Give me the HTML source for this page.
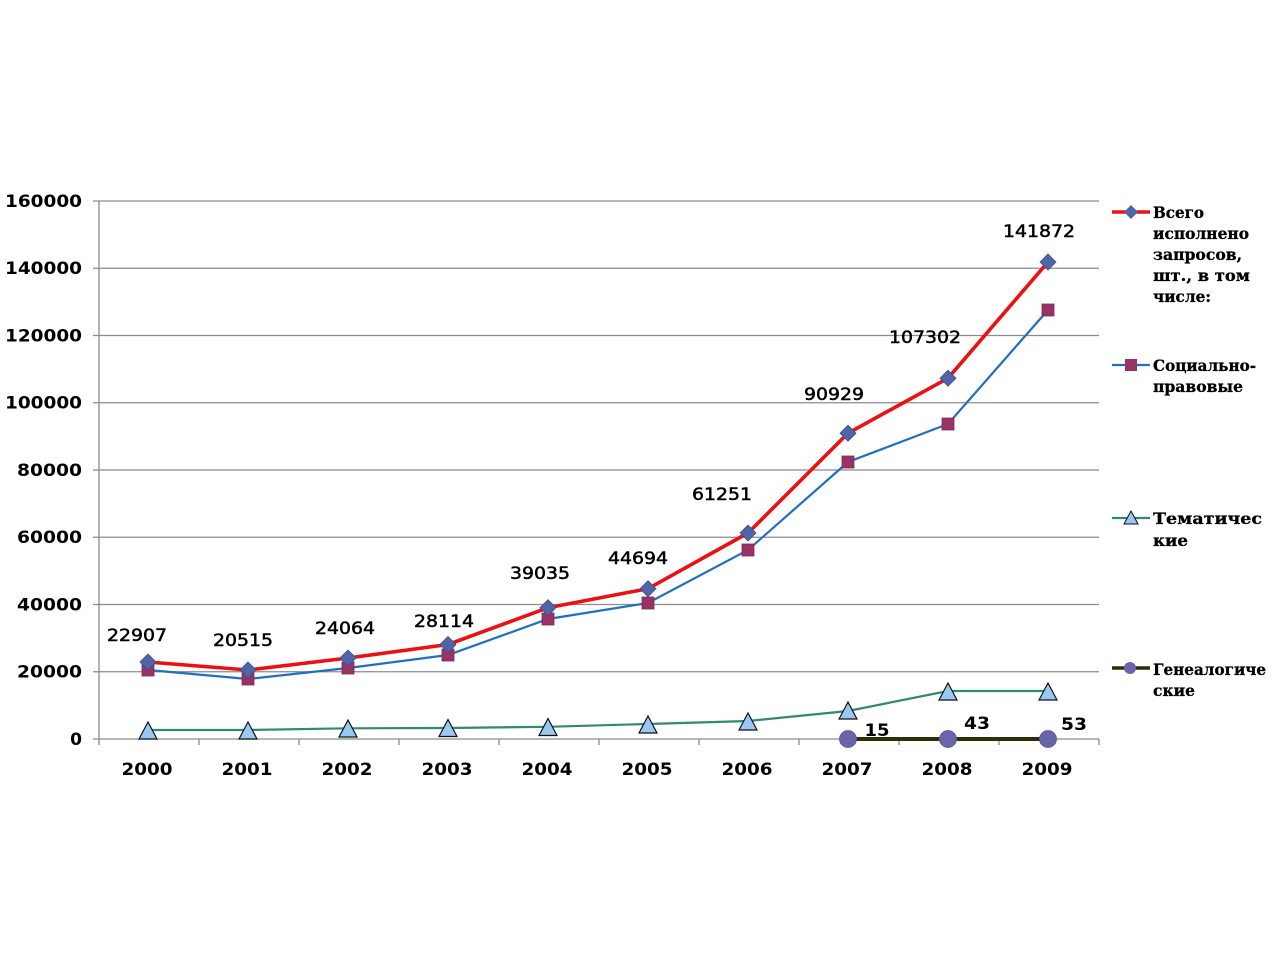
<!DOCTYPE html>
<html>
<head>
<meta charset="utf-8">
<style>
html,body{margin:0;padding:0;background:#fff;}
svg{display:block;}
.ax{font-family:"DejaVu Sans","Liberation Sans",sans-serif;font-weight:bold;font-size:17px;fill:#000;}
.dl{font-family:"DejaVu Sans","Liberation Sans",sans-serif;font-size:17px;fill:#000;stroke:#000;stroke-width:0.5px;}
.lg{font-family:"DejaVu Serif","Liberation Serif",serif;font-weight:bold;font-size:16px;fill:#000;stroke:#000;stroke-width:0.3px;}
</style>
</head>
<body>
<svg width="1280" height="960" viewBox="0 0 1280 960" xmlns="http://www.w3.org/2000/svg">
<rect width="1280" height="960" fill="#fff"/>
<!-- gridlines -->
<g stroke="#8c8c8c" stroke-width="1.3">
<line x1="93" y1="201" x2="1099" y2="201"/>
<line x1="93" y1="268.25" x2="1099" y2="268.25"/>
<line x1="93" y1="335.5" x2="1099" y2="335.5"/>
<line x1="93" y1="402.75" x2="1099" y2="402.75"/>
<line x1="93" y1="470" x2="1099" y2="470"/>
<line x1="93" y1="537.25" x2="1099" y2="537.25"/>
<line x1="93" y1="604.5" x2="1099" y2="604.5"/>
<line x1="93" y1="671.75" x2="1099" y2="671.75"/>
<line x1="93" y1="739" x2="1099" y2="739"/>
<line x1="99" y1="201" x2="99" y2="745"/>
<line x1="199" y1="739" x2="199" y2="745"/>
<line x1="299" y1="739" x2="299" y2="745"/>
<line x1="399" y1="739" x2="399" y2="745"/>
<line x1="499" y1="739" x2="499" y2="745"/>
<line x1="599" y1="739" x2="599" y2="745"/>
<line x1="699" y1="739" x2="699" y2="745"/>
<line x1="799" y1="739" x2="799" y2="745"/>
<line x1="899" y1="739" x2="899" y2="745"/>
<line x1="999" y1="739" x2="999" y2="745"/>
<line x1="1099" y1="739" x2="1099" y2="745"/>
</g>
<!-- y labels -->
<g class="ax" text-anchor="end">
<text x="82" y="207" textLength="77" lengthAdjust="spacingAndGlyphs">160000</text>
<text x="82" y="274" textLength="77" lengthAdjust="spacingAndGlyphs">140000</text>
<text x="82" y="341.5" textLength="77" lengthAdjust="spacingAndGlyphs">120000</text>
<text x="82" y="408.5" textLength="77" lengthAdjust="spacingAndGlyphs">100000</text>
<text x="82" y="476" textLength="65" lengthAdjust="spacingAndGlyphs">80000</text>
<text x="82" y="543" textLength="65" lengthAdjust="spacingAndGlyphs">60000</text>
<text x="82" y="610.5" textLength="65" lengthAdjust="spacingAndGlyphs">40000</text>
<text x="82" y="677.5" textLength="65" lengthAdjust="spacingAndGlyphs">20000</text>
<text x="82" y="745">0</text>
</g>
<!-- x labels -->
<g class="ax" text-anchor="middle">
<text x="147" y="775" textLength="51" lengthAdjust="spacingAndGlyphs">2000</text>
<text x="247" y="775" textLength="51" lengthAdjust="spacingAndGlyphs">2001</text>
<text x="347" y="775" textLength="51" lengthAdjust="spacingAndGlyphs">2002</text>
<text x="447" y="775" textLength="51" lengthAdjust="spacingAndGlyphs">2003</text>
<text x="547" y="775" textLength="51" lengthAdjust="spacingAndGlyphs">2004</text>
<text x="647" y="775" textLength="51" lengthAdjust="spacingAndGlyphs">2005</text>
<text x="747" y="775" textLength="51" lengthAdjust="spacingAndGlyphs">2006</text>
<text x="847" y="775" textLength="51" lengthAdjust="spacingAndGlyphs">2007</text>
<text x="947" y="775" textLength="51" lengthAdjust="spacingAndGlyphs">2008</text>
<text x="1047" y="775" textLength="51" lengthAdjust="spacingAndGlyphs">2009</text>
</g>
<!-- thematic line -->
<polyline fill="none" stroke="#2e8b6f" stroke-width="2.2" points="148,730 248,730 348,728.3 448,728 548,726.8 648,724 748,721 848,711 948,691 1048,691"/>
<!-- social line -->
<polyline fill="none" stroke="#1f6fc4" stroke-width="2.2" points="148,670 248,679 348,668 448,655 548,619 648,603 748,550 848,462 948,424 1048,310"/>
<!-- total line -->
<polyline fill="none" stroke="#ee1010" stroke-width="3.6" points="148,662 248,670 348,658 448,644.5 548,607.7 648,588.7 748,533 848,433.2 948,378.2 1048,262"/>
<!-- genealogical line -->
<line x1="848" y1="739" x2="1048" y2="739" stroke="#2e2e05" stroke-width="4"/>
<!-- square markers -->
<g fill="#993366" stroke="#7a2a55" stroke-width="0.8">
<rect x="142" y="664" width="12" height="12"/>
<rect x="242" y="673" width="12" height="12"/>
<rect x="342" y="662" width="12" height="12"/>
<rect x="442" y="649" width="12" height="12"/>
<rect x="542" y="613" width="12" height="12"/>
<rect x="642" y="597" width="12" height="12"/>
<rect x="742" y="544" width="12" height="12"/>
<rect x="842" y="456" width="12" height="12"/>
<rect x="942" y="418" width="12" height="12"/>
<rect x="1042" y="304" width="12" height="12"/>
</g>
<!-- diamond markers -->
<g fill="#4f65a8" stroke="#3b4f8a" stroke-width="0.8">
<polygon points="148,654 156,662 148,670 140,662"/>
<polygon points="248,662 256,670 248,678 240,670"/>
<polygon points="348,650 356,658 348,666 340,658"/>
<polygon points="448,636.5 456,644.5 448,652.5 440,644.5"/>
<polygon points="548,599.7 556,607.7 548,615.7 540,607.7"/>
<polygon points="648,580.7 656,588.7 648,596.7 640,588.7"/>
<polygon points="748,525 756,533 748,541 740,533"/>
<polygon points="848,425.2 856,433.2 848,441.2 840,433.2"/>
<polygon points="948,370.2 956,378.2 948,386.2 940,378.2"/>
<polygon points="1048,254 1056,262 1048,270 1040,262"/>
</g>
<!-- triangle markers -->
<g fill="#99c8f2" stroke="#111" stroke-width="1.2">
<polygon points="148,722 157,739 139,739"/>
<polygon points="248,722 257,739 239,739"/>
<polygon points="348,720 357,737 339,737"/>
<polygon points="448,719.5 457,736.5 439,736.5"/>
<polygon points="548,718.5 557,735.5 539,735.5"/>
<polygon points="648,716 657,733 639,733"/>
<polygon points="748,713 757,730 739,730"/>
<polygon points="848,702 857,719 839,719"/>
<polygon points="948,683 957,700 939,700"/>
<polygon points="1048,683 1057,700 1039,700"/>
</g>
<!-- circle markers -->
<g fill="#6a64a8" stroke="#5a5595" stroke-width="0.8">
<circle cx="848" cy="739" r="8.5"/>
<circle cx="948" cy="739" r="8.5"/>
<circle cx="1048" cy="739" r="8.5"/>
</g>
<!-- data labels -->
<g class="dl" text-anchor="middle">
<text x="137" y="641" textLength="60" lengthAdjust="spacingAndGlyphs">22907</text>
<text x="243" y="646" textLength="60" lengthAdjust="spacingAndGlyphs">20515</text>
<text x="345" y="634" textLength="60" lengthAdjust="spacingAndGlyphs">24064</text>
<text x="444" y="627" textLength="60" lengthAdjust="spacingAndGlyphs">28114</text>
<text x="540" y="579" textLength="60" lengthAdjust="spacingAndGlyphs">39035</text>
<text x="638" y="564" textLength="60" lengthAdjust="spacingAndGlyphs">44694</text>
<text x="722" y="500" textLength="60" lengthAdjust="spacingAndGlyphs">61251</text>
<text x="834" y="400" textLength="60" lengthAdjust="spacingAndGlyphs">90929</text>
<text x="925" y="343" textLength="72" lengthAdjust="spacingAndGlyphs">107302</text>
<text x="1039" y="237" textLength="72" lengthAdjust="spacingAndGlyphs">141872</text>
</g>
<g class="ax" text-anchor="middle">
<text x="877" y="736" textLength="25" lengthAdjust="spacingAndGlyphs">15</text>
<text x="977" y="729" textLength="26" lengthAdjust="spacingAndGlyphs">43</text>
<text x="1074" y="730" textLength="26" lengthAdjust="spacingAndGlyphs">53</text>
</g>
<!-- legend -->
<line x1="1112" y1="212" x2="1150" y2="212" stroke="#ee1010" stroke-width="3.5"/>
<polygon points="1131,205 1138,212 1131,219 1124,212" fill="#4f65a8"/>
<line x1="1112" y1="365" x2="1150" y2="365" stroke="#1f6fc4" stroke-width="2.2"/>
<rect x="1125" y="359" width="12" height="12" fill="#993366"/>
<line x1="1112" y1="518" x2="1150" y2="518" stroke="#2e8b6f" stroke-width="2.2"/>
<polygon points="1131,511 1138,524 1124,524" fill="#99c8f2" stroke="#111" stroke-width="1"/>
<line x1="1112" y1="668" x2="1150" y2="668" stroke="#2e2e05" stroke-width="3.5"/>
<circle cx="1130" cy="668" r="6" fill="#6a64a8"/>
<g class="lg">
<text x="1153" y="218" textLength="51" lengthAdjust="spacingAndGlyphs">Всего</text>
<text x="1153" y="239" textLength="96" lengthAdjust="spacingAndGlyphs">исполнено</text>
<text x="1153" y="260" textLength="89" lengthAdjust="spacingAndGlyphs">запросов,</text>
<text x="1153" y="281" textLength="97" lengthAdjust="spacingAndGlyphs">шт., в том</text>
<text x="1153" y="302" textLength="58" lengthAdjust="spacingAndGlyphs">числе:</text>
<text x="1153" y="371" textLength="103" lengthAdjust="spacingAndGlyphs">Социально-</text>
<text x="1153" y="392" textLength="90" lengthAdjust="spacingAndGlyphs">правовые</text>
<text x="1153" y="524" textLength="109" lengthAdjust="spacingAndGlyphs">Тематичес</text>
<text x="1153" y="546" textLength="35" lengthAdjust="spacingAndGlyphs">кие</text>
<text x="1153" y="675" textLength="113" lengthAdjust="spacingAndGlyphs">Генеалогиче</text>
<text x="1153" y="696" textLength="42" lengthAdjust="spacingAndGlyphs">ские</text>
</g>
</svg>
</body>
</html>
